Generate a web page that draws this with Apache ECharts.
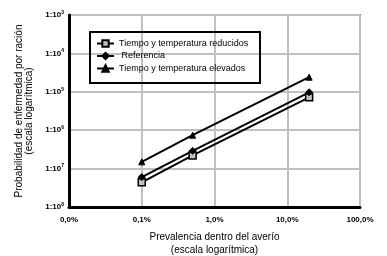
<!DOCTYPE html>
<html>
<head>
<meta charset="utf-8">
<script src="https://cdn.jsdelivr.net/npm/echarts@6/dist/echarts.min.js"></script>
<style>
  html, body { margin: 0; padding: 0; background: #fff; }
  #chart { width: 387px; height: 256px; }
</style>
</head>
<body>
<div id="chart"></div>
<script>
// prevalencia (%) y probabilidad por ración
var prevalence = [0.1, 0.5, 20];
var reduced = [4.4e-8, 2.2e-7, 7.2e-6];
var reference = [6.0e-8, 2.9e-7, 9.7e-6];
var elevated = [1.5e-7, 7.4e-7, 2.4e-5];
var seriesNames = ['Tiempo y temperatura reducidos', ' Referencia', 'Tiempo y temperatura elevados'];

function pairs(ys) {
  return prevalence.map(function (x, i) { return [x, ys[i]]; });
}

var font = 'Liberation Sans, Arial, sans-serif';

var option = {
  animation: false,
  textStyle: { fontFamily: font },
  grid: {
    left: 69, right: 27, top: 15, bottom: 49,
    outerBoundsMode: 'none',
    show: true, borderColor: '#808080', borderWidth: 2
  },
  legend: {
    orient: 'vertical',
    left: 91, top: 34,
    itemWidth: 17, itemHeight: 8, itemGap: 3.5,
    textStyle: { fontSize: 9, color: '#000', fontFamily: font },
    data: seriesNames
  },
  graphic: [{
    type: 'rect',
    shape: { x: 90, y: 32, width: 170, height: 51 },
    style: { fill: null, stroke: '#000', lineWidth: 2 },
    z: 10
  }],
  xAxis: {
    type: 'log', logBase: 10, min: 0.01, max: 100,
    name: 'Prevalencia dentro del averío\n(escala logarítmica)',
    nameLocation: 'middle', nameGap: 24,
    nameTextStyle: { fontSize: 10, color: '#000', lineHeight: 13 },
    axisLine: { lineStyle: { color: '#000', width: 3 } },
    axisTick: { show: false },
    splitLine: { show: true, lineStyle: { color: '#c0c0c0', width: 2 } },
    axisLabel: {
      fontSize: 8, fontWeight: 'bold', color: '#000', margin: 9,
      formatter: function (v) { return v.toFixed(1).replace('.', ',') + '%'; }
    }
  },
  yAxis: {
    type: 'log', logBase: 10, min: 1e-8, max: 1e-3,
    name: 'Probabilidad de enfermedad por ración\n(escala logarítmica)',
    nameLocation: 'middle', nameGap: 27,
    nameTextStyle: { fontSize: 10, color: '#000', lineHeight: 10 },
    axisLine: { lineStyle: { color: '#000', width: 3 } },
    axisTick: { show: false },
    splitLine: { show: true, lineStyle: { color: '#c0c0c0', width: 2 } },
    axisLabel: {
      fontSize: 8, fontWeight: 'bold', color: '#000', margin: 5,
      formatter: function (v) {
        return '1:10{s|' + Math.round(-Math.log10(v)) + '}';
      },
      rich: {
        s: { fontSize: 5, fontWeight: 'bold', color: '#000', verticalAlign: 'top', padding: [0, 0, 5, 0] }
      }
    }
  },
  series: [
    {
      name: seriesNames[0], type: 'line', data: pairs(reduced),
      symbol: 'rect', symbolSize: 7,
      lineStyle: { color: '#000', width: 2 },
      itemStyle: { color: '#c0c0c0', borderColor: '#000', borderWidth: 1.5 }
    },
    {
      name: seriesNames[1], type: 'line', data: pairs(reference),
      symbol: 'diamond', symbolSize: 7,
      lineStyle: { color: '#000', width: 2 },
      itemStyle: { color: '#000', borderColor: '#000', borderWidth: 1 }
    },
    {
      name: seriesNames[2], type: 'line', data: pairs(elevated),
      symbol: 'triangle', symbolSize: 6,
      lineStyle: { color: '#000', width: 2 },
      itemStyle: { color: '#000', borderColor: '#000', borderWidth: 1 }
    }
  ]
};

var chart = echarts.init(document.getElementById('chart'));
chart.setOption(option);
</script>
</body>
</html>
